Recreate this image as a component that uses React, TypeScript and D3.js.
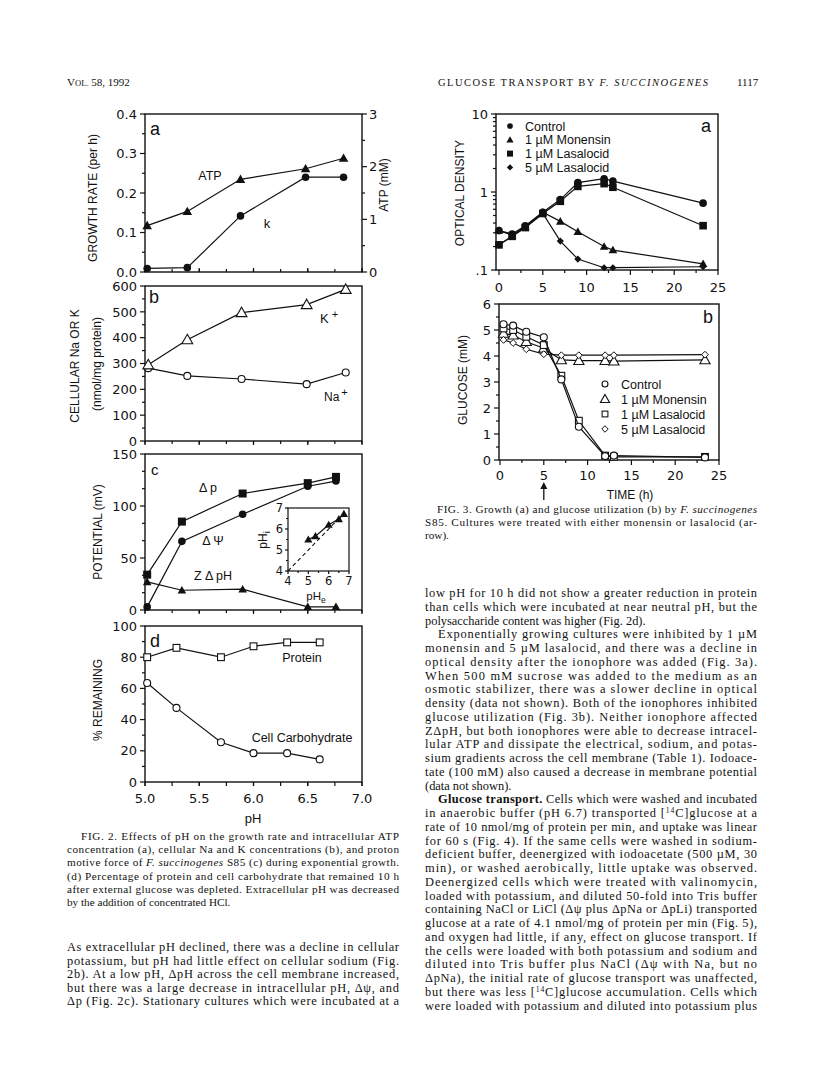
import React from "react";
import * as d3 from "d3";

// ---------------- data ----------------
// Fig 2a
const PH_A = [5.02, 5.39, 5.88, 6.48, 6.83];
const ATP_MM = [0.88, 1.15, 1.76, 1.96, 2.16];
const GROWTH_K = [0.009, 0.011, 0.142, 0.24, 0.24];
// Fig 2b
const PH_B = [5.03, 5.39, 5.89, 6.49, 6.85];
const K_CELL = [295, 392, 497, 528, 587];
const NA_CELL = [282, 252, 240, 220, 265];
// Fig 2c
const PH_C = [5.02, 5.34, 5.9, 6.5, 6.76];
const DELTA_P = [34, 85, 112, 122, 128];
const DELTA_PSI = [3, 66, 92, 119, 124];
const Z_DELTA_PH = [27, 19, 20, 3, 3];
// Fig 2c inset
const INSET_PHE = [5.0, 5.35, 6.0, 6.5, 6.75];
const INSET_PHI = [5.5, 5.66, 6.2, 6.47, 6.72];
const INSET_IDENTITY = [4, 6.55];
// Fig 2d
const PH_D = [5.02, 5.29, 5.7, 6.0, 6.31, 6.61];
const PROTEIN = [80, 86, 80, 87, 89.5, 89.5];
const CARBO = [63.5, 47.5, 25.5, 18.5, 18.5, 14.5];
// Fig 3a
const TIME_A = [0, 1.5, 3, 5, 7, 9, 12, 13, 23.3];
const OD_CONTROL = [0.32, 0.29, 0.37, 0.55, 0.8, 1.32, 1.48, 1.38, 0.72];
const OD_MON1 = [0.32, 0.28, 0.36, 0.55, 0.42, 0.31, 0.2, 0.18, 0.12];
const OD_LAS1 = [0.21, 0.27, 0.35, 0.53, 0.76, 1.18, 1.28, 1.15, 0.37];
const OD_LAS5 = [0.21, 0.27, 0.35, 0.53, 0.235, 0.138, 0.107, 0.107, 0.11];
// Fig 3b
const TIME_B = [0.4, 1.5, 3, 5, 7, 9, 12, 13, 23.4];
const GLU_CONTROL = [5.22, 5.17, 4.93, 4.72, 3.1, 1.28, 0.15, 0.17, 0.1];
const GLU_MON1 = [4.87, 4.8, 4.55, 4.3, 3.85, 3.82, 3.82, 3.8, 3.85];
const GLU_LAS1 = [5.06, 5.0, 4.74, 4.42, 3.24, 1.51, 0.17, 0.12, 0.12];
const GLU_LAS5 = [4.62, 4.5, 4.26, 4.07, 4.03, 4.03, 4.03, 4.03, 4.05];

// tick labels
const GROWTH_TICKS = [0, 0.1, 0.2, 0.3, 0.4];
const ATP_TICKS = [0, 1, 2, 3];
const NAK_TICKS = [0, 100, 200, 300, 400, 500, 600];
const POT_TICKS = [0, 50, 100, 150];
const REM_TICKS = [0, 20, 40, 60, 80, 100];
const PH_TICKS = [5.0, 5.5, 6.0, 6.5, 7.0];
const INSET_TICKS = [4, 5, 6, 7];
const OD_TICKS = [0.1, 1, 10];
const OD_LABELS = [".1", "1", "10"];
const GLU_TICKS = [0, 1, 2, 3, 4, 5, 6];
const TIME_TICKS = [0, 5, 10, 15, 20, 25];

const LEGEND_A = ["Control", "1 µM Monensin", "1 µM Lasalocid", "5 µM Lasalocid"];

// text
const HEADER_LEFT = "VOL. 58, 1992";
const HEADER_CENTER = "GLUCOSE TRANSPORT BY _F. SUCCINOGENES_";
const HEADER_PAGE = "1117";

const CAPTION_2 = [
  "FIG. 2. Effects of pH on the growth rate and intracellular ATP",
  "concentration (a), cellular Na and K concentrations (b), and proton",
  "motive force of _F. succinogenes_ S85 (c) during exponential growth.",
  "(d) Percentage of protein and cell carbohydrate that remained 10 h",
  "after external glucose was depleted. Extracellular pH was decreased",
  "by the addition of concentrated HCl.",
];
const CAPTION_3 = [
  "FIG. 3. Growth (a) and glucose utilization (b) by _F. succinogenes_",
  "S85. Cultures were treated with either monensin or lasalocid (ar-",
  "row).",
];
const LEFT_BODY = [
  "As extracellular pH declined, there was a decline in cellular",
  "potassium, but pH had little effect on cellular sodium (Fig.",
  "2b). At a low pH, ΔpH across the cell membrane increased,",
  "but there was a large decrease in intracellular pH, Δψ, and",
  "Δp (Fig. 2c). Stationary cultures which were incubated at a",
];
const RIGHT_BODY = [
  "low pH for 10 h did not show a greater reduction in protein",
  "than cells which were incubated at near neutral pH, but the",
  "polysaccharide content was higher (Fig. 2d).|",
  ">Exponentially growing cultures were inhibited by 1 µM",
  "monensin and 5 µM lasalocid, and there was a decline in",
  "optical density after the ionophore was added (Fig. 3a).",
  "When 500 mM sucrose was added to the medium as an",
  "osmotic stabilizer, there was a slower decline in optical",
  "density (data not shown). Both of the ionophores inhibited",
  "glucose utilization (Fig. 3b). Neither ionophore affected",
  "ZΔpH, but both ionophores were able to decrease intracel-",
  "lular ATP and dissipate the electrical, sodium, and potas-",
  "sium gradients across the cell membrane (Table 1). Iodoace-",
  "tate (100 mM) also caused a decrease in membrane potential",
  "(data not shown).|",
  ">*Glucose transport.* Cells which were washed and incubated",
  "in anaerobic buffer (pH 6.7) transported [^14^C]glucose at a",
  "rate of 10 nmol/mg of protein per min, and uptake was linear",
  "for 60 s (Fig. 4). If the same cells were washed in sodium-",
  "deficient buffer, deenergized with iodoacetate (500 µM, 30",
  "min), or washed aerobically, little uptake was observed.",
  "Deenergized cells which were treated with valinomycin,",
  "loaded with potassium, and diluted 50-fold into Tris buffer",
  "containing NaCl or LiCl (Δψ plus ΔpNa or ΔpLi) transported",
  "glucose at a rate of 4.1 nmol/mg of protein per min (Fig. 5),",
  "and oxygen had little, if any, effect on glucose transport. If",
  "the cells were loaded with both potassium and sodium and",
  "diluted into Tris buffer plus NaCl (Δψ with Na, but no",
  "ΔpNa), the initial rate of glucose transport was unaffected,",
  "but there was less [^14^C]glucose accumulation. Cells which",
  "were loaded with potassium and diluted into potassium plus",
];

// ---------------- styles ----------------
const NUM = "'DejaVu Sans', sans-serif";
const SANS = "'Liberation Sans', Arial, sans-serif";
const SERIF = "'Liberation Serif', 'Times New Roman', serif";
const INK = "#111";

// ---------------- helpers ----------------
type Sc = (v: number) => number;

function marker(kind: string, x: number, y: number, key: any, s = 1) {
  switch (kind) {
    case "circle":
      return <circle key={key} cx={x} cy={y} r={3.8 * s} fill={INK} />;
    case "circleOpen":
      return <circle key={key} cx={x} cy={y} r={3.5 * s} fill="#fff" stroke={INK} strokeWidth={1.1} />;
    case "tri": {
      const r = 4.8 * s;
      return <path key={key} d={`M${x},${y - r}L${x + r},${y + r * 0.75}L${x - r},${y + r * 0.75}Z`} fill={INK} />;
    }
    case "triOpen": {
      const r = 5.4 * s;
      return <path key={key} d={`M${x},${y - r}L${x + r},${y + r * 0.75}L${x - r},${y + r * 0.75}Z`} fill="#fff" stroke={INK} strokeWidth={1.1} />;
    }
    case "square": {
      const r = 4 * s;
      return <rect key={key} x={x - r} y={y - r} width={2 * r} height={2 * r} fill={INK} />;
    }
    case "squareOpen": {
      const r = 3.4 * s;
      return <rect key={key} x={x - r} y={y - r} width={2 * r} height={2 * r} fill="#fff" stroke={INK} strokeWidth={1.1} />;
    }
    case "diamond": {
      const r = 4.2 * s;
      return <path key={key} d={`M${x},${y - r}L${x + r},${y}L${x},${y + r}L${x - r},${y}Z`} fill={INK} />;
    }
    case "diamondOpen": {
      const r = 3.8 * s;
      return <path key={key} d={`M${x},${y - r}L${x + r},${y}L${x},${y + r}L${x - r},${y}Z`} fill="#fff" stroke={INK} strokeWidth={1} />;
    }
  }
  return null;
}

function Series({ xs, ys, xS, yS, kind, s = 1, lw = 1.2 }: { xs: number[]; ys: number[]; xS: Sc; yS: Sc; kind: string; s?: number; lw?: number }) {
  const line = d3.line<number>().x((_, i) => xS(xs[i])).y((d) => yS(d));
  return (
    <g>
      <path d={line(ys) || ""} fill="none" stroke={INK} strokeWidth={lw} />
      {ys.map((v, i) => marker(kind, xS(xs[i]), yS(v), i, s))}
    </g>
  );
}

function Box({ x0, x1, y0, y1 }: { x0: number; x1: number; y0: number; y1: number }) {
  return <rect x={x0} y={y0} width={x1 - x0} height={y1 - y0} fill="none" stroke={INK} strokeWidth={1.4} />;
}

function AxisL({ s, x, major, minor = [], fmt, len = 5, mlen = 3, fs = 13, gap = 3, labels }: any) {
  return (
    <g stroke={INK} strokeWidth={1.2}>
      {major.map((v: number, i: number) => <line key={"M" + i} x1={x} x2={x - len} y1={s(v)} y2={s(v)} />)}
      {minor.map((v: number, i: number) => <line key={"m" + i} x1={x} x2={x - mlen} y1={s(v)} y2={s(v)} />)}
      {(fmt || labels) && major.map((v: number, i: number) => (
        <text key={"t" + i} x={x - len - gap} y={s(v)} dy="0.36em" textAnchor="end" fontFamily={NUM} fontSize={fs} fill={INK} stroke="none">
          {labels ? labels[i] : fmt(v)}
        </text>
      ))}
    </g>
  );
}

function AxisR({ s, x, major, minor = [], fmt, len = 5, mlen = 3, fs = 13 }: any) {
  return (
    <g stroke={INK} strokeWidth={1.2}>
      {major.map((v: number, i: number) => <line key={"M" + i} x1={x} x2={x + len} y1={s(v)} y2={s(v)} />)}
      {minor.map((v: number, i: number) => <line key={"m" + i} x1={x} x2={x + mlen} y1={s(v)} y2={s(v)} />)}
      {fmt && major.map((v: number, i: number) => (
        <text key={"t" + i} x={x + len + 2} y={s(v)} dy="0.36em" textAnchor="start" fontFamily={NUM} fontSize={fs} fill={INK} stroke="none">
          {fmt(v)}
        </text>
      ))}
    </g>
  );
}

function AxisB({ s, y, major, minor = [], fmt, len = 4, mlen = 3, fs = 13, dir = 1, ly = 21 }: any) {
  return (
    <g stroke={INK} strokeWidth={1.2}>
      {major.map((v: number, i: number) => <line key={"M" + i} x1={s(v)} x2={s(v)} y1={y} y2={y + dir * len} />)}
      {minor.map((v: number, i: number) => <line key={"m" + i} x1={s(v)} x2={s(v)} y1={y} y2={y + dir * mlen} />)}
      {fmt && major.map((v: number, i: number) => (
        <text key={"t" + i} x={s(v)} y={y + ly} textAnchor="middle" fontFamily={NUM} fontSize={fs} fill={INK} stroke="none">
          {fmt(v)}
        </text>
      ))}
    </g>
  );
}

function VLabel({ x, y, children, fs = 12 }: any) {
  return (
    <text transform={`translate(${x},${y}) rotate(-90)`} textAnchor="middle" dy="0.36em" fontFamily={SANS} fontSize={fs} fill={INK}>
      {children}
    </text>
  );
}

function Lbl({ x, y, children, fs = 12.5, anchor = "start", family = SANS }: any) {
  return (
    <text x={x} y={y} dy="0.36em" textAnchor={anchor} fontFamily={family} fontSize={fs} fill={INK}>
      {children}
    </text>
  );
}

function Rich({ x, y, w, str, fs, justify = true }: { x: number; y: number; w: number; str: string; fs: number; justify?: boolean }) {
  let s = str;
  let indent = 0;
  let just = justify;
  if (s.startsWith(">")) {
    s = s.slice(1);
    indent = 13;
  }
  if (s.endsWith("|")) {
    s = s.slice(0, -1);
    just = false;
  }
  const parts = s.split(/(\*[^*]+\*|_[^_]+_|\^[^^]+\^)/).filter((p) => p.length > 0);
  let pending = 0;
  const spans = parts.map((p, i) => {
    let content = p;
    let dy = pending;
    pending = 0;
    const props: any = {};
    if (p.startsWith("*")) {
      content = p.slice(1, -1);
      props.fontWeight = "bold";
    } else if (p.startsWith("_")) {
      content = p.slice(1, -1);
      props.fontStyle = "italic";
    } else if (p.startsWith("^")) {
      content = p.slice(1, -1);
      dy += -4;
      props.fontSize = fs * 0.62;
      pending = 4;
    }
    return (
      <tspan key={i} dy={dy !== 0 ? dy : undefined} {...props}>
        {content}
      </tspan>
    );
  });
  return (
    <text
      x={x + indent}
      y={y}
      fontFamily={SERIF}
      fontSize={fs}
      fill={INK}
      textLength={just ? w - indent : undefined}
      lengthAdjust={just ? "spacing" : undefined}
      style={{ whiteSpace: "pre" }}
    >
      {spans}
    </text>
  );
}

// ---------------- scales ----------------
const X0 = 145, X1 = 362;
const xPh = d3.scaleLinear().domain([5, 7]).range([X0, X1]);
const yA = d3.scaleLinear().domain([0, 0.4]).range([272, 114]);
const yAtp = d3.scaleLinear().domain([0, 3]).range([272, 114]);
const yB = d3.scaleLinear().domain([0, 600]).range([441, 286]);
const yC = d3.scaleLinear().domain([0, 150]).range([610, 454]);
const yD = d3.scaleLinear().domain([0, 100]).range([782, 626]);
const xIn = d3.scaleLinear().domain([4, 7]).range([288, 349]);
const yIn = d3.scaleLinear().domain([4, 7]).range([571, 508]);

const xT = d3.scaleLinear().domain([0, 25]).range([499, 718]);
const yOD = d3.scaleLog().domain([0.1, 10]).range([270, 114]);
const xT2 = d3.scaleLinear().domain([0, 25]).range([500, 719]);
const yG = d3.scaleLinear().domain([0, 6]).range([460, 304]);

const phMinor = d3.range(5, 7.01, 0.25);
const fmt1 = (v: number) => v.toFixed(1);
const fmt0 = (v: number) => String(v);

function SmallCaps({ text, x, y, fs }: any) {
  const parts = [
    { t: text.slice(0, 1), big: true },
    { t: text.slice(1, 4), big: false },
    { t: text.slice(4), big: true },
  ];
  return (
    <text x={x} y={y} fontFamily={SERIF} fontSize={fs} fill={INK} style={{ whiteSpace: "pre" }}>
      {parts.map((p, i) => (
        <tspan key={i} fontSize={p.big ? fs : fs * 0.78}>
          {p.t}
        </tspan>
      ))}
    </text>
  );
}

export default function App() {
  const logMinor: number[] = [];
  [0.1, 1].forEach((d) => {
    for (let k = 2; k <= 9; k++) logMinor.push(d * k);
  });
  const potMinor = d3.range(1, 9).filter((k) => k % 3 !== 0).map((k) => (k * 50) / 3);
  return (
    <svg width={816} height={1077} viewBox="0 0 816 1077" style={{ position: "absolute", left: 0, top: 0, background: "#fff" }}>
      <rect x={0} y={0} width={816} height={1077} fill="#fff" />

      {/* header */}
      <SmallCaps text={HEADER_LEFT} x={67} y={86} fs={11} />
      <Rich x={438} y={86} w={270} str={HEADER_CENTER} fs={10.5} />
      <text x={737} y={86} fontFamily={SERIF} fontSize={11} fill={INK}>{HEADER_PAGE}</text>

      {/* ===== Fig 2a ===== */}
      <Box x0={X0} x1={X1} y0={114} y1={272} />
      <AxisL s={yA} x={X0} major={GROWTH_TICKS} minor={d3.range(0.05, 0.4, 0.1)} fmt={fmt1} />
      <AxisR s={yAtp} x={X1} major={ATP_TICKS} minor={d3.range(0.5, 3, 1)} fmt={fmt0} />
      <AxisB s={xPh} y={272} major={PH_TICKS} minor={phMinor} len={4} mlen={3} dir={-1} />
      <VLabel x={93} y={198}>GROWTH RATE (per h)</VLabel>
      <VLabel x={384} y={185}>ATP (mM)</VLabel>
      <Series xs={PH_A} ys={ATP_MM} xS={xPh} yS={yAtp} kind="tri" />
      <Series xs={PH_A} ys={GROWTH_K} xS={xPh} yS={yA} kind="circle" />
      <Lbl x={150} y={129} fs={18}>a</Lbl>
      <Lbl x={210} y={175} fs={12.5} anchor="middle">ATP</Lbl>
      <Lbl x={267} y={223} fs={13} anchor="middle">k</Lbl>

      {/* ===== Fig 2b ===== */}
      <Box x0={X0} x1={X1} y0={286} y1={441} />
      <AxisL s={yB} x={X0} major={NAK_TICKS} minor={d3.range(50, 600, 100)} fmt={fmt0} />
      <AxisB s={xPh} y={441} major={PH_TICKS} minor={phMinor} len={4} mlen={3} dir={1} />
      <VLabel x={75} y={366}>CELLULAR Na OR K</VLabel>
      <VLabel x={97} y={364}>(nmol/mg protein)</VLabel>
      <Series xs={PH_B} ys={NA_CELL} xS={xPh} yS={yB} kind="circleOpen" />
      <Series xs={PH_B} ys={K_CELL} xS={xPh} yS={yB} kind="triOpen" />
      <Lbl x={149} y={297} fs={18}>b</Lbl>
      <text x={320} y={323} fontFamily={SANS} fontSize={13} fill={INK}>
        K<tspan dx={3} dy={-5} fontSize={11}>+</tspan>
      </text>
      <text x={324} y={401} fontFamily={SANS} fontSize={12} fill={INK}>
        Na<tspan dx={2} dy={-5} fontSize={11}>+</tspan>
      </text>

      {/* ===== Fig 2c ===== */}
      <Box x0={X0} x1={X1} y0={454} y1={610} />
      <AxisL s={yC} x={X0} major={POT_TICKS} minor={potMinor} fmt={fmt0} />
      <AxisB s={xPh} y={610} major={PH_TICKS} minor={phMinor} len={4} mlen={3} dir={1} />
      <VLabel x={98} y={532}>POTENTIAL (mV)</VLabel>
      <Series xs={PH_C} ys={Z_DELTA_PH} xS={xPh} yS={yC} kind="tri" s={0.9} />
      <Series xs={PH_C} ys={DELTA_PSI} xS={xPh} yS={yC} kind="circle" />
      <Series xs={PH_C} ys={DELTA_P} xS={xPh} yS={yC} kind="square" />
      <Lbl x={151} y={470} fs={15}>c</Lbl>
      <Lbl x={208} y={487} fs={12.5} anchor="middle">Δ p</Lbl>
      <Lbl x={213} y={540} fs={12.5} anchor="middle">Δ Ψ</Lbl>
      <Lbl x={213} y={575} fs={12.5} anchor="middle">Z Δ pH</Lbl>
      {/* inset */}
      <rect x={288} y={508} width={61} height={63} fill="#fff" stroke={INK} strokeWidth={1.2} />
      <AxisL s={yIn} x={288} major={INSET_TICKS} minor={[4.5, 5.5, 6.5]} fmt={fmt0} len={3} mlen={2} fs={11.5} gap={2} />
      <AxisB s={xIn} y={571} major={INSET_TICKS} minor={[4.5, 5.5, 6.5]} fmt={fmt0} len={3} mlen={2} fs={11.5} ly={14} />
      <line x1={xIn(INSET_IDENTITY[0])} y1={yIn(INSET_IDENTITY[0])} x2={xIn(INSET_IDENTITY[1])} y2={yIn(INSET_IDENTITY[1])} stroke={INK} strokeWidth={1.1} strokeDasharray="4,3" />
      <Series xs={INSET_PHE} ys={INSET_PHI} xS={xIn} yS={yIn} kind="tri" s={0.85} />
      <text transform="translate(267,540) rotate(-90)" textAnchor="middle" fontFamily={SANS} fontSize={12} fill={INK}>
        pH<tspan dy={3} fontSize={9}>i</tspan>
      </text>
      <text x={316} y={600} textAnchor="middle" fontFamily={SANS} fontSize={11.5} fill={INK}>
        pH<tspan dy={2.5} fontSize={8.5}>e</tspan>
      </text>

      {/* ===== Fig 2d ===== */}
      <Box x0={X0} x1={X1} y0={626} y1={782} />
      <AxisL s={yD} x={X0} major={REM_TICKS} minor={d3.range(10, 100, 20)} fmt={fmt0} />
      <AxisB s={xPh} y={782} major={PH_TICKS} minor={phMinor} fmt={fmt1} len={4} mlen={4} dir={1} ly={21} />
      <VLabel x={98} y={700}>% REMAINING</VLabel>
      <text x={253} y={823} textAnchor="middle" fontFamily={SANS} fontSize={13} fill={INK}>pH</text>
      <Series xs={PH_D} ys={PROTEIN} xS={xPh} yS={yD} kind="squareOpen" />
      <Series xs={PH_D} ys={CARBO} xS={xPh} yS={yD} kind="circleOpen" />
      <Lbl x={150} y={641} fs={18}>d</Lbl>
      <Lbl x={302} y={657} fs={12.5} anchor="middle">Protein</Lbl>
      <Lbl x={302} y={737} fs={12.5} anchor="middle">Cell Carbohydrate</Lbl>

      {/* ===== Fig 3a ===== */}
      <Box x0={496} x1={718} y0={114} y1={270} />
      <AxisL s={yOD} x={496} major={OD_TICKS} minor={logMinor} labels={OD_LABELS} len={5} mlen={3} />
      <AxisB s={xT} y={270} major={TIME_TICKS} minor={d3.range(2.5, 25, 5)} fmt={fmt0} len={5} mlen={3} ly={21.5} />
      <VLabel x={460} y={193}>OPTICAL DENSITY</VLabel>
      <Series xs={TIME_A} ys={OD_CONTROL} xS={xT} yS={yOD} kind="circle" />
      <Series xs={TIME_A} ys={OD_LAS1} xS={xT} yS={yOD} kind="square" s={0.95} />
      <Series xs={TIME_A} ys={OD_MON1} xS={xT} yS={yOD} kind="tri" s={0.9} />
      <Series xs={TIME_A} ys={OD_LAS5} xS={xT} yS={yOD} kind="diamond" s={0.85} />
      {["circle", "tri", "square", "diamond"].map((k, i) => marker(k, 510, 126 + i * 13.8, "lg" + i, 0.75))}
      {LEGEND_A.map((t, i) => (
        <Lbl key={i} x={525} y={126 + i * 13.8} fs={12.5}>{t}</Lbl>
      ))}
      <Lbl x={706} y={126} fs={18} anchor="middle">a</Lbl>

      {/* ===== Fig 3b ===== */}
      <Box x0={499} x1={719} y0={304} y1={460} />
      <AxisL s={yG} x={499} major={GLU_TICKS} minor={d3.range(0.5, 6, 1)} fmt={fmt0} len={5} mlen={3} />
      <AxisB s={xT2} y={460} major={TIME_TICKS} minor={d3.range(2.5, 25, 5)} fmt={fmt0} len={5} mlen={3} ly={20} />
      <VLabel x={463} y={380}>GLUCOSE (mM)</VLabel>
      <Series xs={TIME_B} ys={GLU_MON1} xS={xT2} yS={yG} kind="triOpen" s={0.95} />
      <Series xs={TIME_B} ys={GLU_LAS5} xS={xT2} yS={yG} kind="diamondOpen" s={0.9} />
      <Series xs={TIME_B} ys={GLU_LAS1} xS={xT2} yS={yG} kind="squareOpen" />
      <Series xs={TIME_B} ys={GLU_CONTROL} xS={xT2} yS={yG} kind="circleOpen" />
      {["circleOpen", "triOpen", "squareOpen", "diamondOpen"].map((k, i) => marker(k, 605, 384 + i * 15, "lgb" + i, 0.85))}
      {LEGEND_A.map((t, i) => (
        <Lbl key={i} x={621} y={384 + i * 15} fs={12.5}>{t}</Lbl>
      ))}
      <Lbl x={708} y={317} fs={18} anchor="middle">b</Lbl>
      <text x={630} y={499} textAnchor="middle" fontFamily={SANS} fontSize={12} fill={INK}>TIME (h)</text>
      <line x1={xT2(5)} x2={xT2(5)} y1={500} y2={487} stroke={INK} strokeWidth={1.3} />
      <path d={`M${xT2(5)},482L${xT2(5) + 3.5},489L${xT2(5) - 3.5},489Z`} fill={INK} />

      {/* ===== captions ===== */}
      {CAPTION_3.map((t, i) => (
        <Rich key={i} x={i === 0 ? 437 : 425} y={512.5 + i * 13} w={i === 0 ? 320 : 332} str={t} fs={11.2} justify={i < 2} />
      ))}
      {CAPTION_2.map((t, i) => (
        <Rich key={i} x={i === 0 ? 81 : 67} y={840 + i * 13.2} w={i === 0 ? 318 : 332} str={t} fs={11.2} justify={i < 5} />
      ))}

      {/* ===== body text ===== */}
      {LEFT_BODY.map((t, i) => (
        <Rich key={i} x={67} y={951 + i * 13.6} w={332} str={t} fs={12.4} />
      ))}
      {RIGHT_BODY.map((t, i) => (
        <Rich key={i} x={425} y={597 + i * 13.75} w={332} str={t} fs={12.4} />
      ))}
    </svg>
  );
}
